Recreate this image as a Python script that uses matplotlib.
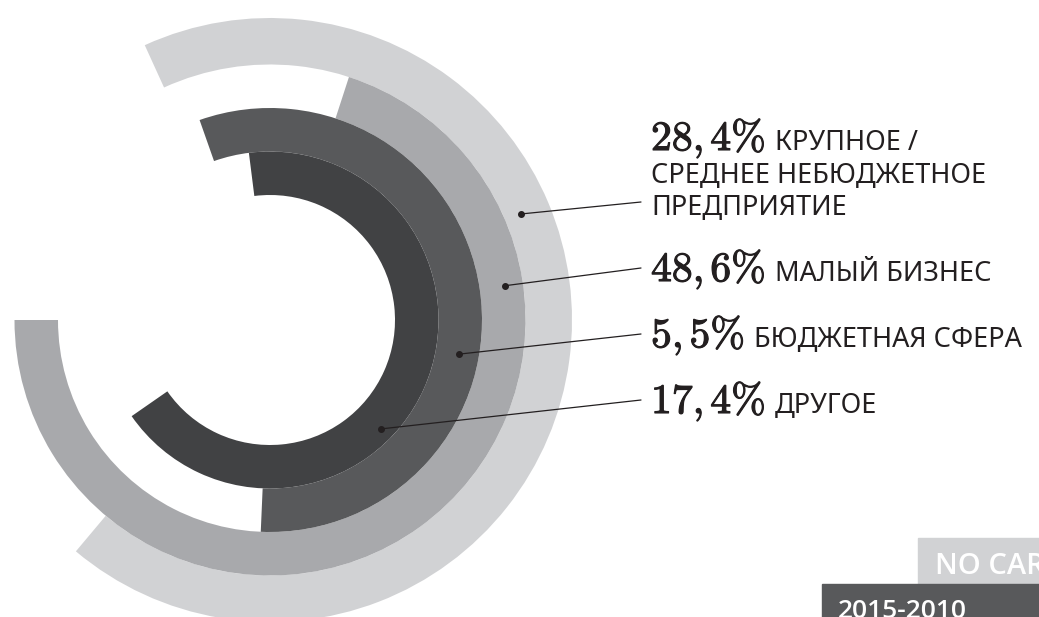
import numpy as np
import matplotlib
matplotlib.use("Agg")
import matplotlib.pyplot as plt
import matplotlib.patheffects as pe
from matplotlib.patches import Rectangle

plt.rcParams['mathtext.fontset'] = 'cm'

# data (outer ring first)
shares = [28.4, 48.6, 5.5, 17.4]
categories = ['КРУПНОЕ /\nСРЕДНЕЕ НЕБЮДЖЕТНОЕ\nПРЕДПРИЯТИЕ',
              'МАЛЫЙ БИЗНЕС', 'БЮДЖЕТНАЯ СФЕРА', 'ДРУГОЕ']
arc_start = [-24.5, 18.0, -19.4, -7.2]   # degrees, clockwise from top
arc_end = [220.0, 270.0, 182.5, 235.2]
ring_colors = ['#d1d2d4', '#a8a9ac', '#58595b', '#414244']

ring_edges = [302, 255.5, 212, 168.5, 125]   # outer -> inner radius
# where the leader lines touch each ring (angle deg, radius)
anchor_theta = [67.1, 81.7, 100.2, 134.5]
anchor_r = [272.5, 237.8, 192.5, 155.4]

ink = '#231f20'
sans = ['Noto Sans', 'DejaVu Sans']

W, H = 1039, 617
fig = plt.figure(figsize=(W / 100, H / 100), dpi=100)

# polar axes, centre at (270, 320) px from top-left, 1 unit = 1 px
R = 310
cx, cy = 270, 320
ax = fig.add_axes([(cx - R) / W, (H - cy - R) / H, 2 * R / W, 2 * R / H],
                  projection='polar')
ax.set_theta_zero_location('N')
ax.set_theta_direction(-1)
ax.set_ylim(0, R)
ax.set_axis_off()

for i in range(len(shares)):
    outer, inner = ring_edges[i], ring_edges[i + 1]
    span = arc_end[i] - arc_start[i]
    ax.bar(np.deg2rad(arc_start[i]), outer - inner, width=np.deg2rad(span),
           bottom=inner, align='edge', color=ring_colors[i], edgecolor='none')

# overlay in pixel coordinates for labels
ov = fig.add_axes([0, 0, 1, 1])
ov.set_xlim(0, W)
ov.set_ylim(H, 0)
ov.set_axis_off()
ov.patch.set_alpha(0)

x_txt = 651
line_gap = 32.5
last_base = [215, 281, 347, 413]
bold = [pe.withStroke(linewidth=0.8, foreground=ink)]

for i, (val, cat) in enumerate(zip(shares, categories)):
    lines = cat.split('\n')
    n = len(lines)
    base0 = last_base[i] - (n - 1) * line_gap
    a, b = ('%.1f' % val).split('.')
    t = ov.text(x_txt, base0, r'$\mathbf{%s{,}\,%s\%%}$' % (a, b),
                fontsize=30, color=ink, va='baseline', ha='left',
                path_effects=bold)
    ov.annotate(lines[0], xy=(1, base0), xycoords=(t, 'data'),
                xytext=(9, 0), textcoords='offset pixels',
                fontsize=19.5, family=sans, weight='light', color=ink,
                va='baseline', ha='left')
    for k in range(1, n):
        ov.text(x_txt, base0 + k * line_gap, lines[k], fontsize=19.5,
                family=sans, weight='light', color=ink,
                va='baseline', ha='left')

    th = np.deg2rad(anchor_theta[i])
    ax.plot(th, anchor_r[i], 'o', ms=4, color=ink, zorder=5)
    ov.annotate('', xy=(641, last_base[i] - 13), xycoords='data',
                xytext=(th, anchor_r[i]), textcoords=ax.transData,
                arrowprops=dict(arrowstyle='-', lw=0.9, color=ink,
                                shrinkA=0, shrinkB=0))

# corner tabs (cut by the edge of the picture)
ov.add_patch(Rectangle((918, 538), 160, 46, color='#d1d2d4', clip_on=False))
ov.text(935, 574, 'NO CARS', fontsize=21, color='white', weight='semibold',
        family=['Open Sans', 'DejaVu Sans'], va='baseline')
ov.add_patch(Rectangle((822, 584), 260, 60, color='#58595b', clip_on=False))
ov.text(838, 618, '2015-2010', fontsize=19, color='white', weight='semibold',
        family=['Open Sans', 'DejaVu Sans'], va='baseline')

fig.savefig('out.png', dpi=100, facecolor='white')
